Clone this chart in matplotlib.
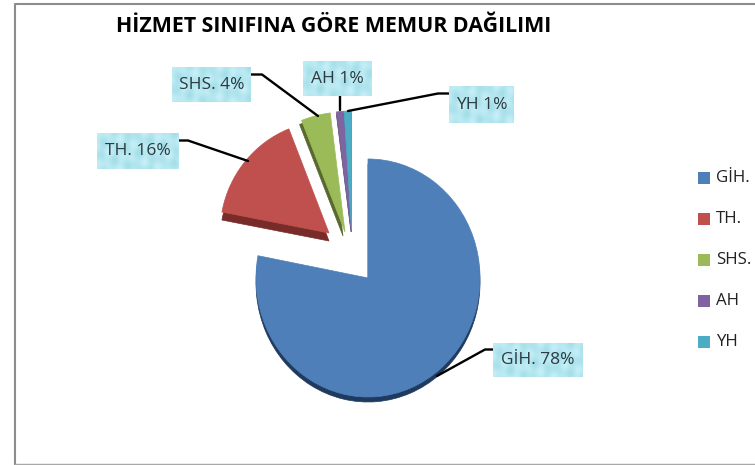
import numpy as np
import matplotlib
matplotlib.use("Agg")
import matplotlib.pyplot as plt
from matplotlib.patches import Wedge, Rectangle
from matplotlib.transforms import Affine2D

# -----------------------------
# DATA
# -----------------------------
categories = ["GİH.", "TH.", "SHS.", "AH", "YH"]
percent = [78, 16, 4, 1, 1]

# -----------------------------
# STYLE (pixel coordinates, y grows downwards)
# -----------------------------
WIDTH = 755
HEIGHT = 465
FONT = ["Open Sans", "DejaVu Sans"]

colors = ["#4f7fb8", "#c0504d", "#9bbb59", "#8064a2", "#4bacc6"]
dark_colors = ["#1f3a5f", "#772c2a", "#59682f", "#4d3b62", "#276a7c"]
centers = [(368, 278), (329, 233), (345, 232), (351, 230), (351.5, 230)]
radii_x = [112, 109, 118, 117, 117]
radii_y = [119, 112, 120, 119, 119]
depth_offsets = [(0, 5), (0, 8), (-2, 4), (0, 2), (0, 2)]

label_boxes = [(493, 343, 90, 34), (97, 133, 82, 36), (172, 68, 79, 34), (303, 62, 69, 34), (449, 87, 65, 36)]
leader_lines = [
    [(493, 349.5), (485, 349.5), (437, 376)],
    [(179, 140.5), (188, 140.5), (248, 161)],
    [(251, 74.5), (262, 74.5), (318, 116)],
    [(340, 96), (340, 110)],
    [(449, 93.5), (438, 93.5), (348, 111)],
]
legend_y = [178, 219, 260, 301, 342]


def box_texture(w, h):
    # soft mottled light blue fill of the data labels
    y, x = np.mgrid[0:h, 0:w]
    n = (np.sin(x * 0.31 + y * 0.22) + np.sin(x * 0.13 - y * 0.41 + 1.0) + np.sin(x * 0.52 + 2.0)) / 3.0
    low = np.array([0.64, 0.87, 0.91])
    high = np.array([0.78, 0.94, 0.97])
    t = (n[..., None] + 1.0) / 2.0
    return low * (1 - t) + high * t


def add_slice(ax, cx, cy, rx, ry, a, b, col, z):
    # unit wedge stretched into an ellipse, the chart is slightly tall
    tr = Affine2D().scale(rx, ry).translate(cx, cy) + ax.transData
    ax.add_patch(Wedge((0, 0), 1.0, a, b, facecolor=col, edgecolor=col, lw=0.5, zorder=z, transform=tr))


def main():
    fig = plt.figure(figsize=(WIDTH / 100, HEIGHT / 100), dpi=100)
    ax = fig.add_axes([0, 0, 1, 1])
    ax.set_xlim(0, WIDTH)
    ax.set_ylim(HEIGHT, 0)
    ax.set_axis_off()

    # frame of the chart area, open on the right
    ax.plot([WIDTH, 15, 15], [4, 4, HEIGHT - 1], color="#8c8c8c", lw=1.5, zorder=1)
    ax.plot([15, WIDTH], [HEIGHT - 1, HEIGHT - 1], color="#a8a8a8", lw=1.0, zorder=1)

    # slices go clockwise from 12 o'clock, y axis is flipped so angles run clockwise too
    total = sum(percent)
    start = -90.0
    wedges = []
    for value in percent:
        sweep = 360.0 * value / total
        wedges.append((start, start + sweep))
        start += sweep

    for (a, b), (cx, cy), rx, ry, (dx, dy), dark in zip(wedges, centers, radii_x, radii_y, depth_offsets, dark_colors):
        add_slice(ax, cx + dx, cy + dy, rx, ry, a, b, dark, 2)
    for (a, b), (cx, cy), rx, ry, col in zip(wedges, centers, radii_x, radii_y, colors):
        add_slice(ax, cx, cy, rx, ry, a, b, col, 3)

    for pts in leader_lines:
        xs, ys = zip(*pts)
        ax.plot(xs, ys, color="black", lw=1.7, solid_capstyle="round", zorder=4)

    for name, value, (x, y, w, h) in zip(categories, percent, label_boxes):
        ax.imshow(box_texture(w, h), extent=[x, x + w, y + h, y], aspect="auto", zorder=5, interpolation="bilinear")
        ax.text(x + w / 2, y + h / 2, f"{name} {value}%", ha="center", va="center",
                fontsize=12.5, color="#2b3a40", family=FONT, zorder=6)

    # imshow resets the limits
    ax.set_xlim(0, WIDTH)
    ax.set_ylim(HEIGHT, 0)

    ax.text(334, 27, "HİZMET SINIFINA GÖRE MEMUR DAĞILIMI", ha="center", va="center",
            fontsize=15.4, fontweight="bold", color="black", family=FONT)

    # legend
    for name, col, y in zip(categories, colors, legend_y):
        ax.add_patch(Rectangle((698, y - 6), 12, 12, facecolor=col, edgecolor="none"))
        ax.text(716, y, name, ha="left", va="center", fontsize=12.2, color="#222222", family=FONT)

    fig.savefig("out.png", dpi=100)


if __name__ == "__main__":
    main()
